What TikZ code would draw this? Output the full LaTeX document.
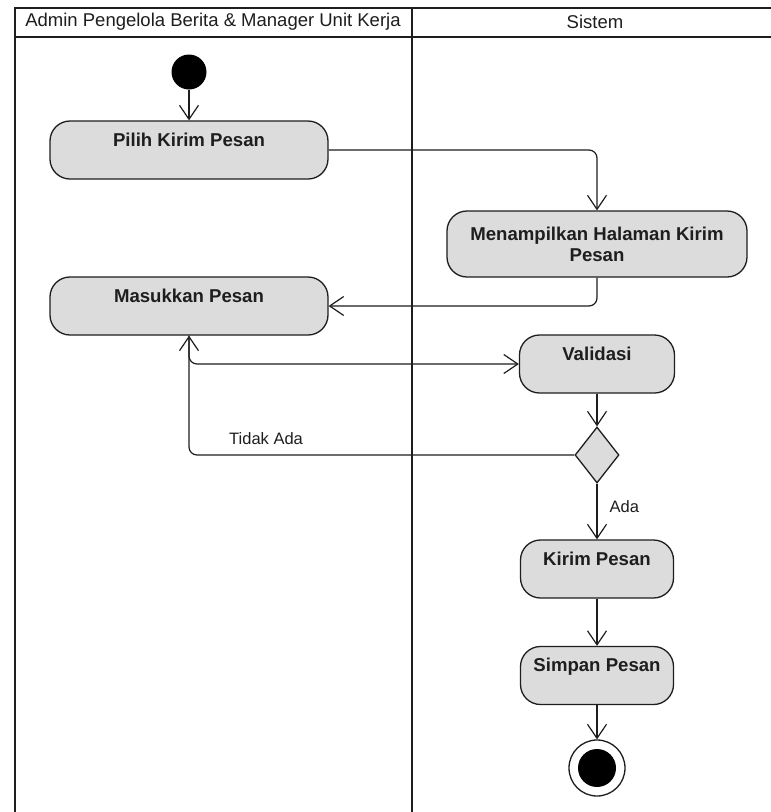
\documentclass[tikz,border=0pt]{standalone}
\usepackage{fontspec}
\setmainfont{Liberation Sans}
\usetikzlibrary{arrows.meta,shapes.geometric}

\definecolor{actfill}{HTML}{DCDCDC}
\definecolor{ink}{HTML}{1E1E1E}

\tikzset{
  lane/.style={draw=ink, line width=2.8pt},
  laneTop/.style={draw=ink, line width=1.6pt},
  lanetitle/.style={font=\fontsize{18.5}{20}\selectfont, text=ink, inner sep=0pt},
  act/.style={draw=ink, line width=1.3pt, fill=actfill, rounded corners=20pt,
    align=center, inner sep=0pt, text=ink,
    font=\bfseries\fontsize{18.6}{21}\selectfont},
  actone/.style={act, text height=25pt, text depth=33pt},
  decision/.style={diamond, draw=ink, line width=1.3pt, fill=actfill,
    minimum width=44pt, minimum height=56pt, inner sep=0pt, aspect=0.8},
  startnode/.style={circle, fill=black, minimum size=35pt, inner sep=0pt},
  endouter/.style={circle, draw=ink, line width=1.3pt, fill=white, minimum size=56pt, inner sep=0pt},
  endinner/.style={circle, fill=black, minimum size=38pt, inner sep=0pt},
  flow/.style={draw=ink, line width=1.2pt, -{Straight Barb[length=14pt,width=19pt,line width=1.2pt]}},
  guard/.style={font=\fontsize{16.5}{18}\selectfont, text=ink, inner sep=0pt},
}

\begin{document}
\begin{tikzpicture}[x=1pt, y=-1pt]
  \useasboundingbox (0,0) rectangle (771,812);
  \fill[white] (0,0) rectangle (771,812);

  % swimlanes
  \draw[laneTop] (14,8) -- (771,8);
  \draw[lane] (14,37) -- (771,37);
  \draw[lane] (15,8) -- (15,812);
  \draw[lane] (412,8) -- (412,812);
  \node[lanetitle] (laneA) at (213,22) {Admin Pengelola Berita \& Manager Unit Kerja};
  \node[lanetitle] (laneB) at (595,22) {Sistem};

  % activities
  \node[startnode] (start) at (189,72) {};
  \node[actone, minimum width=278pt] (pilih) at (189,150) {Pilih Kirim Pesan};
  \node[act, minimum width=300pt, minimum height=66pt] (tampil) at (597,244)
    {Menampilkan Halaman Kirim\\Pesan};
  \node[actone, minimum width=278pt] (masuk) at (189,306) {Masukkan Pesan};
  \node[actone, minimum width=155pt] (valid) at (597,364) {Validasi};
  \node[decision] (cek) at (597,455) {};
  \node[actone, minimum width=153pt] (kirim) at (597,569) {Kirim Pesan};
  \node[actone, minimum width=153pt] (simpan) at (597,675.5) {Simpan Pesan};
  \node[endouter] (stop) at (597,768) {};
  \node[endinner] (stopdot) at (597,768) {};

  % flows
  \draw[flow] (start) -- (pilih);
  \draw[flow, rounded corners=8pt] (pilih.east) -| (tampil.north);
  \draw[flow, rounded corners=8pt] (tampil.south) |- (masuk.east);
  \draw[flow, rounded corners=8pt] (masuk.south) |- (valid.west);
  \draw[flow] (valid) -- (cek);
  \draw[flow, rounded corners=8pt] (cek.west) -| node[guard, pos=0.4, above=10pt] {Tidak Ada} (masuk.south);
  \draw[flow] (cek) -- node[guard, pos=0.42, right=12pt] {Ada} (kirim);
  \draw[flow] (kirim) -- (simpan);
  \draw[flow] (simpan) -- (stop);
\end{tikzpicture}
\end{document}
